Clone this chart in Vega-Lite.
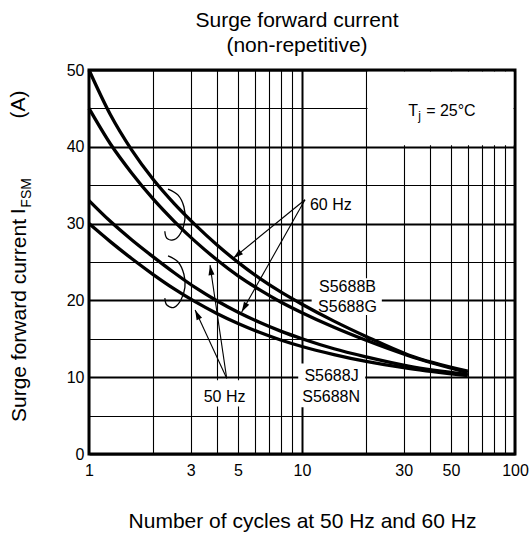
{
  "$schema": "https://vega.github.io/schema/vega-lite/v6.json",
  "width": 426,
  "height": 384,
  "autosize": {"type": "none"},
  "padding": {"left": 89, "top": 70, "right": 15, "bottom": 81},
  "background": "white",
  "config": {
    "font": "Liberation Sans",
    "view": {"stroke": "black", "strokeWidth": 3},
    "axis": {
      "domain": false,
      "ticks": false,
      "tickSize": 0,
      "labelFont": "Liberation Sans",
      "labelFontSize": 16,
      "labelColor": "black",
      "gridColor": "black",
      "gridOpacity": 1,
      "titleFont": "Liberation Sans",
      "titleFontSize": 21,
      "titleFontWeight": "normal",
      "titleColor": "black"
    }
  },
  "title": {
    "text": ["Surge forward current", "(non-repetitive)"],
    "font": "Liberation Sans",
    "fontSize": 21,
    "fontWeight": "normal",
    "color": "black",
    "lineHeight": 25,
    "offset": 6,
    "dx": -5
  },
  "datasets": {
    "curves": [
      {"s": "A", "x": 1, "y": 50}, {"s": "A", "x": 1.259, "y": 44.2}, {"s": "A", "x": 1.585, "y": 39.6}, {"s": "A", "x": 1.995, "y": 35.8}, {"s": "A", "x": 2.512, "y": 32.6}, {"s": "A", "x": 3.162, "y": 29.8}, {"s": "A", "x": 3.981, "y": 27.25}, {"s": "A", "x": 5.012, "y": 24.95}, {"s": "A", "x": 6.31, "y": 22.9}, {"s": "A", "x": 7.943, "y": 21.1}, {"s": "A", "x": 10, "y": 19.5}, {"s": "A", "x": 14.13, "y": 17.3}, {"s": "A", "x": 20, "y": 15.3}, {"s": "A", "x": 31.62, "y": 12.9}, {"s": "A", "x": 60, "y": 10.8},
      {"s": "B", "x": 1, "y": 45}, {"s": "B", "x": 1.259, "y": 40.4}, {"s": "B", "x": 1.585, "y": 36.6}, {"s": "B", "x": 1.995, "y": 33.25}, {"s": "B", "x": 2.512, "y": 30.3}, {"s": "B", "x": 3.162, "y": 27.65}, {"s": "B", "x": 3.981, "y": 25.3}, {"s": "B", "x": 5.012, "y": 23.2}, {"s": "B", "x": 6.31, "y": 21.4}, {"s": "B", "x": 7.943, "y": 19.8}, {"s": "B", "x": 10, "y": 18.4}, {"s": "B", "x": 14.13, "y": 16.5}, {"s": "B", "x": 20, "y": 14.8}, {"s": "B", "x": 31.62, "y": 12.8}, {"s": "B", "x": 60, "y": 10.6},
      {"s": "C", "x": 1, "y": 33}, {"s": "C", "x": 1.259, "y": 30.3}, {"s": "C", "x": 1.585, "y": 27.9}, {"s": "C", "x": 1.995, "y": 25.7}, {"s": "C", "x": 2.512, "y": 23.6}, {"s": "C", "x": 3.162, "y": 21.65}, {"s": "C", "x": 3.981, "y": 19.95}, {"s": "C", "x": 5.012, "y": 18.45}, {"s": "C", "x": 6.31, "y": 17.15}, {"s": "C", "x": 7.943, "y": 16.0}, {"s": "C", "x": 10, "y": 15.0}, {"s": "C", "x": 14.13, "y": 13.7}, {"s": "C", "x": 20, "y": 12.65}, {"s": "C", "x": 31.62, "y": 11.45}, {"s": "C", "x": 60, "y": 10.35},
      {"s": "D", "x": 1, "y": 30}, {"s": "D", "x": 1.259, "y": 27.65}, {"s": "D", "x": 1.585, "y": 25.45}, {"s": "D", "x": 1.995, "y": 23.4}, {"s": "D", "x": 2.512, "y": 21.5}, {"s": "D", "x": 3.162, "y": 19.8}, {"s": "D", "x": 3.981, "y": 18.3}, {"s": "D", "x": 5.012, "y": 17.0}, {"s": "D", "x": 6.31, "y": 15.85}, {"s": "D", "x": 7.943, "y": 14.85}, {"s": "D", "x": 10, "y": 14.0}, {"s": "D", "x": 14.13, "y": 12.95}, {"s": "D", "x": 20, "y": 12.05}, {"s": "D", "x": 31.62, "y": 11.15}, {"s": "D", "x": 60, "y": 10.2}
    ],
    "brackets": [
      {"g": "upper", "i": 1, "x": 2.35, "y": 34.5}, {"g": "upper", "i": 2, "x": 2.62, "y": 33.7}, {"g": "upper", "i": 3, "x": 2.79, "y": 32.2}, {"g": "upper", "i": 4, "x": 2.82, "y": 30.5}, {"g": "upper", "i": 5, "x": 2.7, "y": 28.8}, {"g": "upper", "i": 6, "x": 2.51, "y": 27.9}, {"g": "upper", "i": 7, "x": 2.32, "y": 28.1}, {"g": "upper", "i": 8, "x": 2.27, "y": 29.0},
      {"g": "lower", "i": 1, "x": 2.35, "y": 25.8}, {"g": "lower", "i": 2, "x": 2.62, "y": 25.0}, {"g": "lower", "i": 3, "x": 2.79, "y": 23.4}, {"g": "lower", "i": 4, "x": 2.82, "y": 21.7}, {"g": "lower", "i": 5, "x": 2.7, "y": 20.05}, {"g": "lower", "i": 6, "x": 2.51, "y": 19.1}, {"g": "lower", "i": 7, "x": 2.32, "y": 19.4}, {"g": "lower", "i": 8, "x": 2.27, "y": 20.3}
    ],
    "arrows": [
      {"a": "60a", "x": 10.33, "y": 33.1}, {"a": "60a", "x": 4.76, "y": 25.5},
      {"a": "60b", "x": 10.33, "y": 33.1}, {"a": "60b", "x": 5.21, "y": 18.5},
      {"a": "50a", "x": 4.43, "y": 9.85}, {"a": "50a", "x": 3.7, "y": 24.6},
      {"a": "50b", "x": 4.43, "y": 9.85}, {"a": "50b", "x": 3.15, "y": 18.75}
    ],
    "heads": [
      {"a": "60a", "x": 4.76, "y": 25.5},
      {"a": "60b", "x": 5.21, "y": 18.5},
      {"a": "50a", "x": 3.7, "y": 24.6},
      {"a": "50b", "x": 3.15, "y": 18.75}
    ],
    "labelboxes": [
      {"x": 11.1, "x2": 23.7, "y": 18.1, "y2": 22.9},
      {"x": 9.6, "x2": 19.8, "y": 6.1, "y2": 11.8},
      {"x": 3.35, "x2": 5.6, "y": 6.2, "y2": 9.6}
    ],
    "tjbox": [{"x": 20.3, "x2": 98.3, "y": 40.2, "y2": 49.78}],
    "labels": [
      {"t": "S5688B", "x": 16.35, "y": 21.1},
      {"t": "S5688G", "x": 16.35, "y": 18.5},
      {"t": "S5688J", "x": 13.76, "y": 9.5},
      {"t": "S5688N", "x": 13.7, "y": 6.8},
      {"t": "50 Hz", "x": 4.33, "y": 6.8}
    ],
    "leftlabels": [{"t": "60 Hz", "x": 10.9, "y": 31.8}],
    "tj": [{"x": 31.5, "y": 44.0}],
    "ytitle": [
      {"t": "I", "x": 0.5006, "y": 31.6},
      {"t": "(A)", "x": 0.5006, "y": 45.5}
    ],
    "ysub": [{"t": "FSM", "x": 0.534, "y": 34.0}]
  },
  "encoding": {
    "x": {
      "field": "x",
      "type": "quantitative",
      "scale": {"type": "log", "domain": [1, 100], "nice": false},
      "axis": {
        "values": [1, 2, 3, 4, 5, 6, 7, 8, 9, 10, 20, 30, 40, 50, 60, 70, 80, 90, 100],
        "labelExpr": "indexof([1, 3, 5, 10, 30, 50, 100], datum.value) >= 0 ? format(datum.value, 'd') : ''",
        "labelFlush": false,
        "labelPadding": 8,
        "gridWidth": {"condition": {"test": "datum.value === 10", "value": 2}, "value": 1.1},
        "title": "Number of cycles at 50 Hz and 60 Hz",
        "titleY": 73,
        "titleBaseline": "alphabetic"
      }
    },
    "y": {
      "field": "y",
      "type": "quantitative",
      "scale": {"domain": [0, 50], "nice": false},
      "axis": {
        "values": [0, 5, 10, 15, 20, 25, 30, 35, 40, 45, 50],
        "labelExpr": "datum.value % 10 === 0 ? datum.label : ''",
        "labelPadding": 5,
        "gridWidth": {"condition": {"test": "datum.value % 10 === 0", "value": 2}, "value": 1.1},
        "title": "Surge forward current",
        "titleX": -64,
        "titleY": 250,
        "titleAngle": 270,
        "titleAlign": "center",
        "titleBaseline": "alphabetic"
      }
    }
  },
  "layer": [
    {
      "data": {"name": "labelboxes"},
      "mark": {"type": "rect", "fill": "white", "stroke": null},
      "encoding": {"x2": {"field": "x2"}, "y2": {"field": "y2"}}
    },
    {
      "data": {"name": "tjbox"},
      "mark": {"type": "rect", "fill": "white", "stroke": null},
      "encoding": {"x2": {"field": "x2"}, "y2": {"field": "y2"}}
    },
    {
      "data": {"name": "curves"},
      "mark": {"type": "line", "color": "black", "strokeWidth": 3.3, "interpolate": "monotone"},
      "encoding": {"detail": {"field": "s"}}
    },
    {
      "data": {"name": "brackets"},
      "mark": {"type": "line", "color": "black", "strokeWidth": 1.3, "interpolate": "cardinal"},
      "encoding": {"detail": {"field": "g"}, "order": {"field": "i"}}
    },
    {
      "data": {"name": "arrows"},
      "mark": {"type": "line", "color": "black", "strokeWidth": 1.1},
      "encoding": {"detail": {"field": "a"}}
    },
    {
      "data": {"name": "heads"},
      "transform": [{"filter": "datum.a === '60a'"}],
      "mark": {"type": "point", "shape": "M0,0L-0.3,1L0.3,1Z", "filled": true, "color": "black", "opacity": 1, "size": 400, "angle": 231},
      "encoding": {}
    },
    {
      "data": {"name": "heads"},
      "transform": [{"filter": "datum.a === '60b'"}],
      "mark": {"type": "point", "shape": "M0,0L-0.3,1L0.3,1Z", "filled": true, "color": "black", "opacity": 1, "size": 400, "angle": 209.5},
      "encoding": {}
    },
    {
      "data": {"name": "heads"},
      "transform": [{"filter": "datum.a === '50a'"}],
      "mark": {"type": "point", "shape": "M0,0L-0.3,1L0.3,1Z", "filled": true, "color": "black", "opacity": 1, "size": 400, "angle": 351.6},
      "encoding": {}
    },
    {
      "data": {"name": "heads"},
      "transform": [{"filter": "datum.a === '50b'"}],
      "mark": {"type": "point", "shape": "M0,0L-0.3,1L0.3,1Z", "filled": true, "color": "black", "opacity": 1, "size": 400, "angle": 335.1},
      "encoding": {}
    },
    {
      "data": {"name": "labels"},
      "mark": {"type": "text", "font": "Liberation Sans", "fontSize": 16, "color": "black", "align": "center", "baseline": "alphabetic"},
      "encoding": {"text": {"field": "t"}}
    },
    {
      "data": {"name": "leftlabels"},
      "mark": {"type": "text", "font": "Liberation Sans", "fontSize": 16, "color": "black", "align": "left", "baseline": "alphabetic"},
      "encoding": {"text": {"field": "t"}}
    },
    {
      "data": {"name": "tj"},
      "mark": {"type": "text", "text": "T", "font": "Liberation Sans", "fontSize": 16, "color": "black", "align": "left", "baseline": "alphabetic"},
      "encoding": {}
    },
    {
      "data": {"name": "tj"},
      "mark": {"type": "text", "text": "j", "font": "Liberation Sans", "fontSize": 12, "color": "black", "align": "left", "baseline": "alphabetic", "dx": 10, "dy": 4},
      "encoding": {}
    },
    {
      "data": {"name": "tj"},
      "mark": {"type": "text", "text": "= 25°C", "font": "Liberation Sans", "fontSize": 16, "color": "black", "align": "left", "baseline": "alphabetic", "dx": 18},
      "encoding": {}
    },
    {
      "data": {"name": "ytitle"},
      "mark": {"type": "text", "font": "Liberation Sans", "fontSize": 21, "color": "black", "align": "center", "baseline": "alphabetic", "angle": 270},
      "encoding": {"text": {"field": "t"}}
    },
    {
      "data": {"name": "ysub"},
      "mark": {"type": "text", "font": "Liberation Sans", "fontSize": 14, "color": "black", "align": "center", "baseline": "alphabetic", "angle": 270},
      "encoding": {"text": {"field": "t"}}
    }
  ]
}
